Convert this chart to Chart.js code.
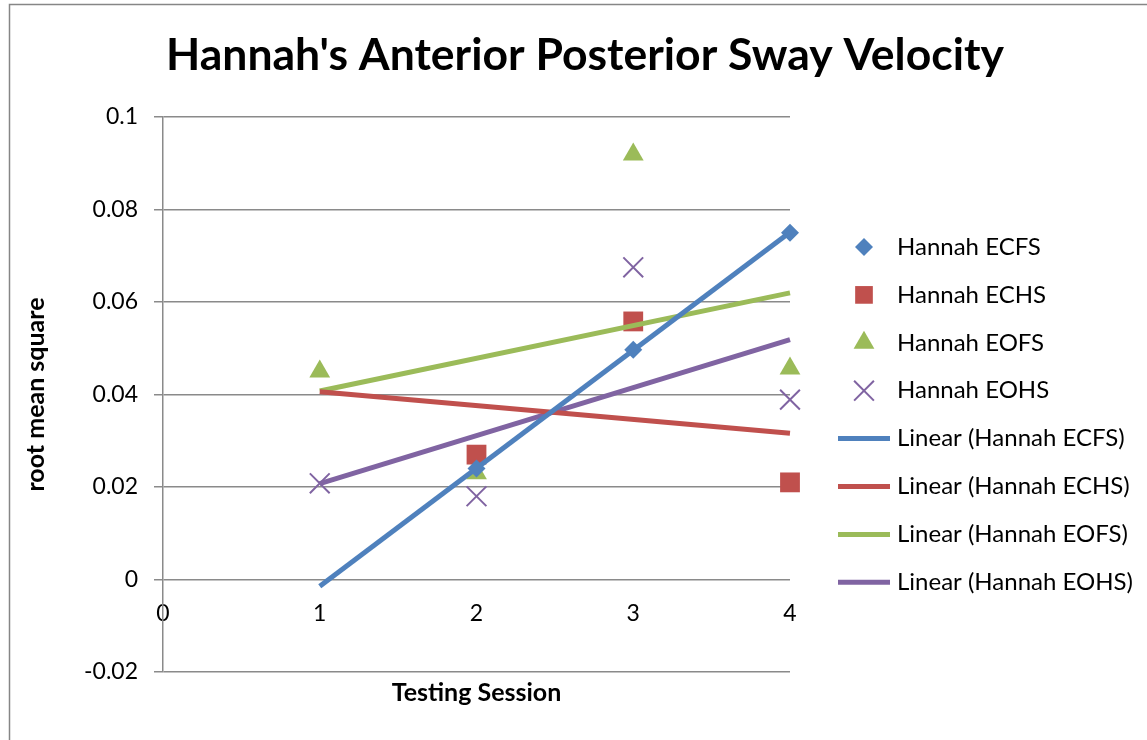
<!DOCTYPE html>
<html>
<head>
<meta charset="utf-8">
<title>Hannah's Anterior Posterior Sway Velocity</title>
<script src="https://cdn.jsdelivr.net/npm/chart.js@4.4.1/dist/chart.umd.min.js"></script>
<style>
  html, body { margin: 0; padding: 0; background: #fff; }
  #wrap { width: 1147px; height: 740px; }
</style>
</head>
<body>
<div id="wrap"><canvas id="swayChart" width="1147" height="740"></canvas></div>
<script>
// Testing sessions (x values) and root mean square readings per condition
const sessions = [1, 2, 3, 4];
const ecfs = [null, 0.024, 0.0497, 0.075];
const echs = [null, 0.027, 0.0558, 0.021];
const eofs = [0.045, 0.023, 0.0919, 0.0456];
const eohs = [0.0208, 0.018, 0.0675, 0.0389];

const seriesNames = ['Hannah ECFS', 'Hannah ECHS', 'Hannah EOFS', 'Hannah EOHS'];
const seriesValues = [ecfs, echs, eofs, eohs];

const xTicks = [0, 1, 2, 3, 4];
const yTicks = [-0.02, 0, 0.02, 0.04, 0.06, 0.08, 0.1];

const FONT = 'Lato, "Open Sans", sans-serif';
const BODY_SIZE = 23;
const LEGEND_SIZE = 24;
const AXIS_TITLE_SIZE = 25;
const GRID = '#8a8a8a';

const colors = ['#4F81BD', '#C0504D', '#9BBB59', '#8064A2'];
const markers = [
    { pointStyle: 'rectRot', pointRadius: 9, borderWidth: 0 },
    { pointStyle: 'rect', pointRadius: 14, borderWidth: 0 },
    { pointStyle: 'triangle', pointRadius: 12, borderWidth: 0 },
    { pointStyle: 'crossRot', pointRadius: 14, borderWidth: 2 }
];

function toPoints(values) {
    return sessions
        .map((x, i) => ({ x: x, y: values[i] }))
        .filter(p => p.y !== null);
}

// least squares trend, drawn across the whole session range like Excel does
function linearTrend(values) {
    const pts = toPoints(values);
    const n = pts.length;
    const mx = pts.reduce((s, p) => s + p.x, 0) / n;
    const my = pts.reduce((s, p) => s + p.y, 0) / n;
    let sxy = 0, sxx = 0;
    pts.forEach(p => { sxy += (p.x - mx) * (p.y - my); sxx += (p.x - mx) * (p.x - mx); });
    const slope = sxy / sxx;
    const x0 = sessions[0], x1 = sessions[sessions.length - 1];
    return [
        { x: x0, y: my + slope * (x0 - mx) },
        { x: x1, y: my + slope * (x1 - mx) }
    ];
}

const datasets = [];
seriesNames.forEach((name, i) => {
    datasets.push({
        type: 'scatter',
        label: name,
        data: toPoints(seriesValues[i]),
        backgroundColor: colors[i],
        borderColor: colors[i],
        pointStyle: markers[i].pointStyle,
        pointRadius: markers[i].pointRadius,
        pointHoverRadius: markers[i].pointRadius,
        borderWidth: markers[i].borderWidth,
        clip: false,
        order: 2
    });
});
seriesNames.forEach((name, i) => {
    datasets.push({
        type: 'line',
        label: 'Linear (' + name + ')',
        data: linearTrend(seriesValues[i]),
        borderColor: colors[i],
        backgroundColor: colors[i],
        borderWidth: 5,
        pointRadius: 0,
        fill: false,
        clip: false,
        order: 1
    });
});

// outer chart border (only left and top edges fall inside the picture)
const frame = {
    id: 'frame',
    beforeDraw(chart) {
        const ctx = chart.ctx;
        ctx.save();
        ctx.strokeStyle = '#868686';
        ctx.lineWidth = 1.5;
        ctx.strokeRect(9.5, 4.5, chart.width + 20, chart.height + 20);
        ctx.restore();
    }
};

const sideLegend = {
    id: 'sideLegend',
    afterDraw(chart) {
        const ctx = chart.ctx;
        ctx.save();
        chart.data.datasets.forEach((ds, i) => {
            const y = 247 + i * 47.9;
            if (ds.type === 'line') {
                ctx.strokeStyle = ds.borderColor;
                ctx.lineWidth = 5;
                ctx.beginPath();
                ctx.moveTo(838, y);
                ctx.lineTo(890, y);
                ctx.stroke();
            } else {
                ctx.fillStyle = ds.backgroundColor;
                ctx.strokeStyle = ds.borderColor;
                ctx.lineWidth = ds.borderWidth;
                Chart.helpers.drawPoint(ctx, {
                    pointStyle: ds.pointStyle,
                    radius: ds.pointStyle === 'rect' ? 12.5 : ds.pointRadius,
                    borderWidth: ds.borderWidth,
                    rotation: 0
                }, 864, y);
            }
            ctx.fillStyle = '#000';
            ctx.font = LEGEND_SIZE + 'px ' + FONT;
            ctx.textBaseline = 'middle';
            ctx.textAlign = 'left';
            ctx.fillText(ds.label, 897, y);
        });
        ctx.restore();
    }
};

new Chart(document.getElementById('swayChart'), {
    type: 'scatter',
    data: { datasets: datasets },
    options: {
        responsive: false,
        devicePixelRatio: 1,
        animation: false,
        layout: { padding: { left: 23, top: 0, right: 0, bottom: 0 } },
        plugins: {
            legend: { display: false },
            tooltip: { enabled: false },
            title: {
                display: true,
                text: "Hannah's Anterior Posterior Sway Velocity",
                color: '#000',
                font: { family: FONT, size: 44.5, weight: 'bold', lineHeight: 1.2 },
                padding: { top: 29.3, bottom: 34.3 }
            }
        },
        scales: {
            x: {
                type: 'linear',
                position: { y: 0 },
                min: 0,
                max: 4,
                afterBuildTicks: (scale) => { scale.ticks = xTicks.map(v => ({ value: v })); },
                grid: { display: false, drawTicks: false },
                border: { display: false },
                ticks: {
                    color: '#000',
                    padding: 20,
                    font: { family: FONT, size: BODY_SIZE },
                    callback: (v) => String(v)
                }
            },
            xb: {
                type: 'linear',
                position: 'bottom',
                min: 0,
                max: 4,
                afterFit: (scale) => { scale.height = 68; },
                grid: { display: false, drawTicks: false },
                border: { display: false },
                ticks: { display: false },
                title: {
                    display: true,
                    text: 'Testing Session',
                    color: '#000',
                    font: { family: FONT, size: AXIS_TITLE_SIZE, weight: 'bold', lineHeight: 1.2 },
                    padding: { top: 0, bottom: 32 }
                }
            },
            y: {
                type: 'linear',
                position: 'left',
                min: -0.02,
                max: 0.1,
                afterFit: (scale) => { scale.width = 140; },
                afterBuildTicks: (scale) => { scale.ticks = yTicks.map(v => ({ value: v })); },
                grid: { color: GRID, lineWidth: 1.5, tickLength: 9, drawTicks: true },
                border: { display: true, color: GRID, width: 1.5 },
                ticks: {
                    color: '#000',
                    padding: 16,
                    font: { family: FONT, size: BODY_SIZE },
                    callback: (v) => String(Number(v.toFixed(2)))
                },
                title: {
                    display: true,
                    text: 'root mean square',
                    color: '#000',
                    font: { family: FONT, size: AXIS_TITLE_SIZE, weight: 'bold', lineHeight: 1 },
                    padding: { top: 0, bottom: 0 }
                }
            },
            yr: {
                type: 'linear',
                position: 'right',
                min: -0.02,
                max: 0.1,
                afterFit: (scale) => { scale.width = 357; },
                grid: { display: false, drawTicks: false },
                border: { display: false },
                ticks: { display: false }
            }
        }
    },
    plugins: [frame, sideLegend]
});
</script>
</body>
</html>
